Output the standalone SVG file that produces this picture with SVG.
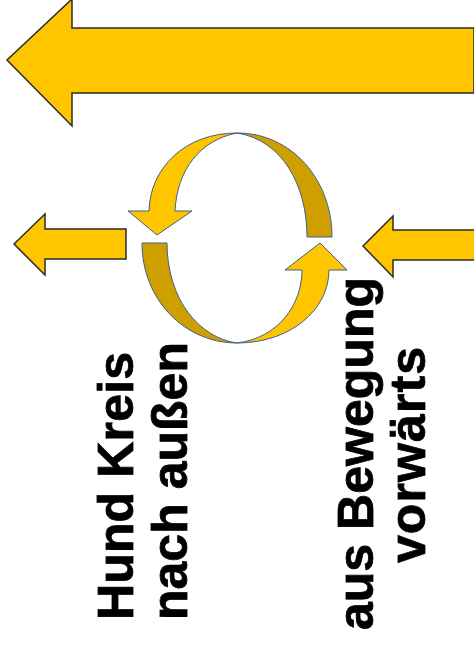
<svg xmlns="http://www.w3.org/2000/svg" width="474" height="652" viewBox="0 0 474 652">
<style>
.arr{fill:#FFC600;stroke:#2a2a2a;stroke-width:1.5;stroke-linejoin:miter}
.lt{fill:#FFC600;stroke:#3F5F8A;stroke-width:1}
.dk{fill:#CDA000;stroke:#3F5F8A;stroke-width:1}
.t{font-family:"Liberation Sans",Arial,sans-serif;font-weight:bold;font-size:50px;fill:#000;stroke:#000;stroke-width:0.8}
</style>
<rect width="474" height="652" fill="#fff"/>
<g id="big-arrow">
<path class="arr" d="M7,60 L72,-1 L72,28 L474,28 L474,93 L72,93 L72,126 Z"/>
</g>
<g id="left-arrow">
<path class="arr" d="M14,244 L45,214 L45,229 L126,229 L126,259 L45,259 L45,275 Z"/>
</g>
<g id="right-arrow">
<path class="arr" d="M363,246 L393,216 L393,230 L475,230 L475,260 L393,260 L393,277 Z"/>
</g>
<g id="cycle">
<path class="lt" d="M237,133 C185,133 150,168 149,211 L128,211 L157,235 L192,211 L175,211 C177,170 200,140 237,133 Z"/>
<path class="dk" d="M237,133 C292,133 332,180 332,237 L307,237 C307,185 282,140 237,133 Z"/>
<path class="dk" d="M142,243 L167,243 C167,300 200,338 237,343 C185,343 142,300 142,243 Z"/>
<path class="lt" d="M237,343 C278,338 302,305 302,270 L285,270 L320,243 L347,270 L329,270 C329,310 290,343 237,343 Z"/>
</g>
<g id="label-left">
<text class="t" transform="translate(133,620) rotate(-90)" textLength="268">Hund Kreis</text>
<text class="t" transform="translate(187,620) rotate(-90)" textLength="278">nach außen</text>
</g>
<g id="label-right">
<text class="t" transform="translate(373,630) rotate(-90)" textLength="353">aus Bewegung</text>
<text class="t" transform="translate(425,563) rotate(-90)" textLength="216">vorwärts</text>
</g>
</svg>
